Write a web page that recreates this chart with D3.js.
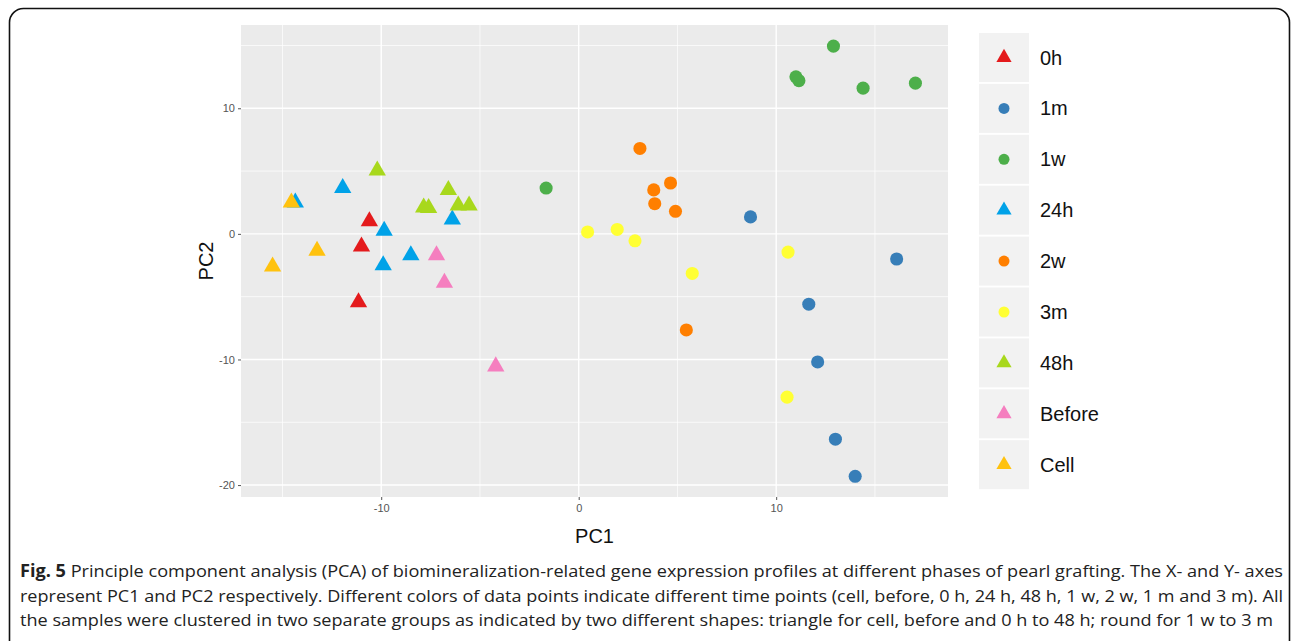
<!DOCTYPE html>
<html><head><meta charset="utf-8">
<script src="https://cdn.jsdelivr.net/npm/d3@7"></script>
<style>body{margin:0;background:#fff;} svg{display:block;}</style>
</head><body>
<svg id="chart" width="1292" height="641"></svg>
<script>
// ---- data ----
const groups = ["0h","1m","1w","24h","2w","3m","48h","Before","Cell"];
const groupColors = ["#E41A1C","#377EB8","#4DAF4A","#00A2E8","#FF7F00","#FFFF33","#A8D81C","#F57EBF","#FFC20E"];
const groupShapes = ["triangle","circle","circle","triangle","circle","circle","triangle","triangle","triangle"];
const pc1_0h = [-10.6,-11.0,-11.15];
const pc2_0h = [1.0,-1.0,-5.45];
const pc1_1m = [8.7,16.1,11.65,12.1,13.0,14.0];
const pc2_1m = [1.35,-2.0,-5.6,-10.2,-16.35,-19.3];
const pc1_1w = [-1.65,12.9,11.0,11.15,14.4,17.05];
const pc2_1w = [3.65,14.95,12.5,12.2,11.6,12.0];
const pc1_24h = [-11.95,-14.35,-9.85,-9.9,-8.5,-6.4];
const pc2_24h = [3.65,2.5,0.25,-2.5,-1.7,1.15];
const pc1_2w = [3.1,4.65,3.8,3.85,4.9,5.45];
const pc2_2w = [6.8,4.05,3.5,2.4,1.8,-7.65];
const pc1_3m = [0.45,1.95,2.85,5.75,10.6,10.55];
const pc2_3m = [0.15,0.35,-0.55,-3.15,-1.45,-13.0];
const pc1_48h = [-10.2,-7.85,-7.6,-6.6,-6.1,-5.55];
const pc2_48h = [5.05,2.1,2.05,3.5,2.25,2.25];
const pc1_before = [-7.2,-6.8,-4.2];
const pc2_before = [-1.7,-3.9,-10.55];
const pc1_cell = [-14.55,-13.25,-15.5];
const pc2_cell = [2.5,-1.35,-2.6];
const xTicks = [-10,0,10];
const yTicks = [-20,-10,0,10];
const xMinor = [-15,-5,5,15];
const yMinor = [-15,-5,5,15];
const captionLines = [
  ["Fig. 5", " Principle component analysis (PCA) of biomineralization-related gene expression profiles at different phases of pearl grafting. The X- and Y- axes"],
  ["", "represent PC1 and PC2 respectively. Different colors of data points indicate different time points (cell, before, 0 h, 24 h, 48 h, 1 w, 2 w, 1 m and 3 m). All"],
  ["", "the samples were clustered in two separate groups as indicated by two different shapes: triangle for cell, before and 0 h to 48 h; round for 1 w to 3 m"]
];

const seriesX = [pc1_0h,pc1_1m,pc1_1w,pc1_24h,pc1_2w,pc1_3m,pc1_48h,pc1_before,pc1_cell];
const seriesY = [pc2_0h,pc2_1m,pc2_1w,pc2_24h,pc2_2w,pc2_3m,pc2_48h,pc2_before,pc2_cell];
const points = [];
groups.forEach((g,i)=>{
  seriesX[i].forEach((x,j)=>points.push({g, i, x, y: seriesY[i][j]}));
});

// ---- layout ----
const svg = d3.select("#chart");
const panel = {left:241, top:25, right:948, bottom:497};
const x = d3.scaleLinear().domain([-17.1,18.7]).range([panel.left, panel.right]);
const y = d3.scaleLinear().domain([-20.95,16.63]).range([panel.bottom, panel.top]);
const fmt = d => String(d);

// outer rounded border
svg.append("rect").attr("x",9.5).attr("y",8.5).attr("width",1280).attr("height",650)
  .attr("rx",14).attr("fill","none").attr("stroke","#111").attr("stroke-width",1.6);

// panel
svg.append("rect").attr("x",panel.left).attr("y",panel.top)
  .attr("width",panel.right-panel.left).attr("height",panel.bottom-panel.top).attr("fill","#EBEBEB");

const grid = svg.append("g");
xMinor.forEach(v=>grid.append("line").attr("x1",x(v)).attr("x2",x(v)).attr("y1",panel.top).attr("y2",panel.bottom).attr("stroke","#fff").attr("stroke-width",0.7));
yMinor.forEach(v=>grid.append("line").attr("y1",y(v)).attr("y2",y(v)).attr("x1",panel.left).attr("x2",panel.right).attr("stroke","#fff").attr("stroke-width",0.7));
xTicks.forEach(v=>grid.append("line").attr("x1",x(v)).attr("x2",x(v)).attr("y1",panel.top).attr("y2",panel.bottom).attr("stroke","#fff").attr("stroke-width",1.4));
yTicks.forEach(v=>grid.append("line").attr("y1",y(v)).attr("y2",y(v)).attr("x1",panel.left).attr("x2",panel.right).attr("stroke","#fff").attr("stroke-width",1.4));

// axes
const xAxis = svg.append("g").attr("transform",`translate(0,${panel.bottom})`)
  .call(d3.axisBottom(x).tickValues(xTicks).tickSize(3).tickPadding(4).tickFormat(fmt));
const yAxis = svg.append("g").attr("transform",`translate(${panel.left},0)`)
  .call(d3.axisLeft(y).tickValues(yTicks).tickSize(3).tickPadding(3).tickFormat(fmt));
[xAxis,yAxis].forEach(a=>{
  a.select(".domain").remove();
  a.selectAll("line").attr("stroke","#555").attr("stroke-width",1);
  a.selectAll("text").attr("fill","#555").style("font-family","'Liberation Sans',Arial,sans-serif").style("font-size","11px");
});

// axis titles
svg.append("text").attr("x",(panel.left+panel.right)/2).attr("y",543).attr("text-anchor","middle")
  .style("font-family","'Liberation Sans',Arial,sans-serif").style("font-size","20px").attr("fill","#111").text("PC1");
svg.append("text").attr("transform",`translate(213,${(panel.top+panel.bottom)/2}) rotate(-90)`).attr("text-anchor","middle")
  .style("font-family","'Liberation Sans',Arial,sans-serif").style("font-size","20px").attr("fill","#111").text("PC2");

// points
const sym = (shape, size) => d3.symbol().type(shape==="triangle"?d3.symbolTriangle:d3.symbolCircle).size(size)();
svg.append("g").selectAll("path").data(points).join("path")
  .attr("d", d=>sym(groupShapes[d.i], groupShapes[d.i]==="triangle"?130:135))
  .attr("transform", d=>`translate(${x(d.x)},${y(d.y)})`)
  .attr("fill", d=>groupColors[d.i]);

// legend
const leg = svg.append("g");
const legTop = 33, legPitch = 50.9, boxH = 49, boxX = 979, boxW = 50;
groups.forEach((g,i)=>{
  const yy = legTop + i*legPitch;
  leg.append("rect").attr("x",boxX).attr("y",yy).attr("width",boxW).attr("height",boxH).attr("fill","#F2F2F2");
  leg.append("path").attr("d", sym(groupShapes[i], groupShapes[i]==="triangle"?100:95))
    .attr("transform",`translate(${boxX+boxW/2},${yy+boxH/2})`).attr("fill",groupColors[i]);
  leg.append("text").attr("x",1040).attr("y",yy+boxH/2).attr("dy","0.35em")
    .style("font-family","'Liberation Sans',Arial,sans-serif").style("font-size","20px").attr("fill","#111").text(g);
});

// caption
const capY = [577, 602, 626];
const capRight = [1283, 1283, 1273];
captionLines.forEach((ln,i)=>{
  const t = svg.append("text").attr("x",20).attr("y",capY[i])
    .attr("textLength", capRight[i]-20).attr("lengthAdjust","spacingAndGlyphs")
    .style("font-family","'Open Sans','Noto Sans',sans-serif").style("font-size","17px").attr("fill","#222");
  if (ln[0]) t.append("tspan").style("font-weight","bold").text(ln[0]);
  t.append("tspan").text(ln[1]);
});
</script>
</body></html>
